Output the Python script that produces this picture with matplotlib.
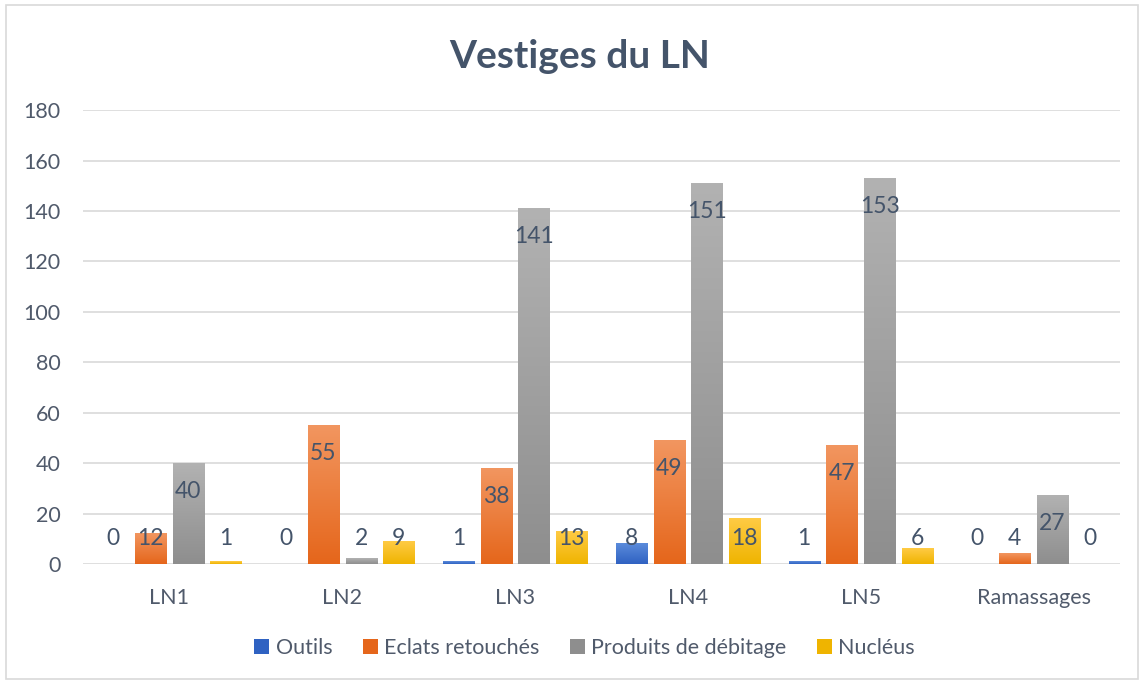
import numpy as np
import matplotlib.pyplot as plt
from matplotlib.colors import LinearSegmentedColormap
from matplotlib.patches import Patch, Rectangle

plt.rcParams['font.family'] = ['Lato', 'DejaVu Sans']

# categories and counts per type of vestige
categories = ['LN1', 'LN2', 'LN3', 'LN4', 'LN5', 'Ramassages']
series_names = ['Outils', 'Eclats retouchés', 'Produits de débitage', 'Nucléus']
outils = [0, 0, 1, 8, 1, 0]
eclats = [12, 55, 38, 49, 47, 4]
produits = [40, 2, 141, 151, 153, 27]
nucleus = [1, 9, 13, 18, 6, 0]

# (top colour, bottom colour) of each series' gradient fill
grad = [('#5B8BDB', '#2F62C2'),
        ('#F29660', '#E5661B'),
        ('#B2B2B2', '#8E8E8E'),
        ('#FFCB45', '#EFB400')]
label_col = '#44546A'
tick_col = '#505A6B'
grid_col = '#D9D9D9'

fig = plt.figure(figsize=(11.44, 6.84), dpi=100)
ax = fig.add_axes([0.0726, 0.1754, 0.9064, 0.6636])

x = np.arange(len(categories))
step = 0.218
width = 0.18
values = [outils, eclats, produits, nucleus]
ramp = np.linspace(0, 1, 256).reshape(-1, 1)

for i, vals in enumerate(values):
    pos = x + (i - 1.5) * step
    bars = ax.bar(pos, vals, width, color=grad[i][1], zorder=2)
    cmap = LinearSegmentedColormap.from_list('g%d' % i, [grad[i][0], grad[i][1]])
    for b, v in zip(bars, vals):
        if v > 0:
            ax.imshow(ramp, cmap=cmap, aspect='auto', origin='upper', zorder=3,
                      extent=[b.get_x(), b.get_x() + b.get_width(), 0, v])
        # labels sit just inside the bar top, never below a floor near the base
        ax.text(b.get_x() + b.get_width() / 2, max(v - 11.1, 10.3), str(v),
                ha='center', va='center', fontsize=16.5, color=label_col, zorder=4)

ax.set_xlim(-0.5, len(categories) - 0.5)
ax.set_ylim(0, 180)
ax.set_yticks(np.arange(0, 181, 20))
ax.set_xticks(x)
ax.set_xticklabels(categories)
ax.yaxis.grid(True, color=grid_col, linewidth=1.2, zorder=0)
ax.set_axisbelow(True)
for s in ax.spines.values():
    s.set_visible(False)
ax.tick_params(axis='both', length=0, labelsize=15.5, labelcolor=tick_col)
ax.tick_params(axis='x', pad=17)
ax.tick_params(axis='y', pad=16)

fig.text(0.507, 0.918, 'Vestiges du LN', ha='center', va='center',
         fontsize=28, fontweight='bold', color=label_col)

handles = [Patch(facecolor=g[1], edgecolor='none') for g in grad]
fig.legend(handles, series_names, loc='center', bbox_to_anchor=(0.511, 0.052),
           ncol=4, frameon=False, fontsize=15.5, handlelength=0.7, handleheight=0.7,
           handletextpad=0.3, columnspacing=1.4, labelcolor=tick_col)

# chart border
fig.patches.append(Rectangle((0.005, 0.008), 0.99, 0.984, transform=fig.transFigure,
                             fill=False, edgecolor=grid_col, linewidth=1.2))

fig.savefig('out.png', dpi=100, facecolor='white')
